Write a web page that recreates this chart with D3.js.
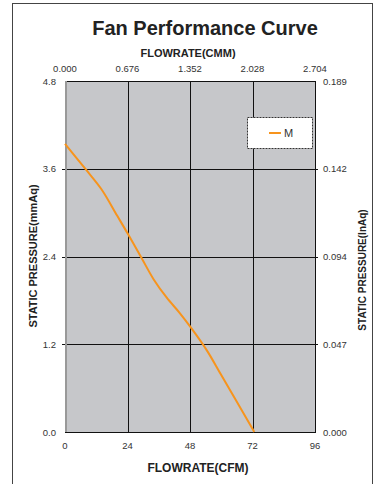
<!DOCTYPE html>
<html><head><meta charset="utf-8">
<script src="https://cdn.jsdelivr.net/npm/d3@7"></script>
<style>html,body{margin:0;padding:0;background:#fff;}svg{display:block;font-family:"Liberation Sans",Arial,sans-serif;}</style>
</head><body>
<script>
const flowCFM = [0, 8, 14, 20, 24.3, 29.4, 34, 39, 44, 48.3, 54.4, 60, 72.7];
const pressureMM = [3.94, 3.59, 3.32, 2.96, 2.70, 2.38, 2.09, 1.84, 1.63, 1.43, 1.12, 0.78, 0];
const xTicks = [0, 24, 48, 72, 96];
const xTopLabels = ["0.000", "0.676", "1.352", "2.028", "2.704"];
const yTicks = [0, 1.2, 2.4, 3.6, 4.8];
const yRightLabels = ["0.000", "0.047", "0.094", "0.142", "0.189"];
const seriesName = "M";

const W = 375, H = 484;
const svg = d3.select("body").append("svg").attr("width", W).attr("height", H);

// outer frame
svg.append("rect").attr("x", 12.5).attr("y", 3.5).attr("width", 360).attr("height", 490)
  .attr("fill", "none").attr("stroke", "#444").attr("stroke-width", 1);

const L = 65, R = 315, T = 81, B = 432;
const x = d3.scaleLinear().domain([0, 96]).range([L, R]);
const y = d3.scaleLinear().domain([0, 4.8]).range([B, T]);

svg.append("rect").attr("x", L).attr("y", T).attr("width", R - L).attr("height", B - T).attr("fill", "#c6c7ca");

// grid
const g = svg.append("g");
g.selectAll(".vg").data(xTicks.slice(1, -1)).join("line")
  .attr("x1", d => Math.round(x(d)) + 0.5).attr("x2", d => Math.round(x(d)) + 0.5)
  .attr("y1", T).attr("y2", B).attr("stroke", "#111").attr("stroke-width", 1);
g.selectAll(".hg").data(yTicks.slice(1, -1)).join("line")
  .attr("y1", d => Math.round(y(d)) + 0.5).attr("y2", d => Math.round(y(d)) + 0.5)
  .attr("x1", L - 3).attr("x2", R + 3).attr("stroke", "#111").attr("stroke-width", 1);

// borders
svg.append("line").attr("x1", L).attr("x2", R + 1).attr("y1", T + 0.5).attr("y2", T + 0.5).attr("stroke", "#111");
svg.append("line").attr("x1", L).attr("x2", R + 1).attr("y1", B + 0.5).attr("y2", B + 0.5).attr("stroke", "#111");
svg.append("line").attr("x1", R + 0.5).attr("x2", R + 0.5).attr("y1", T).attr("y2", B + 1).attr("stroke", "#111");
svg.append("line").attr("x1", L + 1).attr("x2", L + 1).attr("y1", T).attr("y2", B).attr("stroke", "#999").attr("stroke-width", 2);

// curve
const pts = flowCFM.map((f, i) => [f, pressureMM[i]]);
svg.append("path").datum(pts)
  .attr("d", d3.line().x(d => x(d[0])).y(d => y(d[1])).curve(d3.curveCatmullRom.alpha(0.5)))
  .attr("fill", "none").attr("stroke", "#f7941d").attr("stroke-width", 2);

// tick labels
const lab = svg.append("g").attr("font-size", 9.5).attr("fill", "#333");
lab.selectAll(".bx").data(xTicks).join("text")
  .attr("x", d => x(d)).attr("y", 449).attr("text-anchor", "middle").text(d => d);
lab.selectAll(".tx").data(xTicks).join("text")
  .attr("x", d => x(d)).attr("y", 72).attr("text-anchor", "middle").text((d, i) => xTopLabels[i]);
lab.selectAll(".ly").data(yTicks).join("text")
  .attr("x", 56).attr("y", d => y(d) + 3.5).attr("text-anchor", "end").text(d => d.toFixed(1));
lab.selectAll(".ry").data(yTicks).join("text")
  .attr("x", 323).attr("y", d => y(d) + 3.5).attr("text-anchor", "start").text((d, i) => yRightLabels[i]);

// titles
svg.append("text").attr("x", 205).attr("y", 35).attr("text-anchor", "middle")
  .attr("font-size", 20).attr("font-weight", "bold").attr("fill", "#222").text("Fan Performance Curve");
svg.append("text").attr("x", 188).attr("y", 57).attr("text-anchor", "middle")
  .attr("font-size", 11).attr("font-weight", "bold").attr("fill", "#222").text("FLOWRATE(CMM)");
svg.append("text").attr("x", 198).attr("y", 472).attr("text-anchor", "middle")
  .attr("font-size", 12).attr("font-weight", "bold").attr("fill", "#222").text("FLOWRATE(CFM)");
svg.append("text").attr("transform", "translate(37,256) rotate(-90)").attr("text-anchor", "middle")
  .attr("font-size", 11).attr("font-weight", "bold").attr("fill", "#222").text("STATIC PRESSURE(mmAq)");
svg.append("text").attr("transform", "translate(366,270) rotate(-90)").attr("text-anchor", "middle")
  .attr("font-size", 10).attr("font-weight", "bold").attr("fill", "#222").text("STATIC PRESSURE(InAq)");

// legend
const lg = svg.append("g");
lg.append("rect").attr("x", 247.5).attr("y", 117.5).attr("width", 65).attr("height", 31)
  .attr("fill", "#fff").attr("stroke", "#333").attr("stroke-dasharray", "2,1");
lg.append("line").attr("x1", 269).attr("x2", 281).attr("y1", 133).attr("y2", 133)
  .attr("stroke", "#f7941d").attr("stroke-width", 2);
lg.append("text").attr("x", 284).attr("y", 137).attr("font-size", 11).attr("fill", "#333").text(seriesName);
</script>
</body></html>
